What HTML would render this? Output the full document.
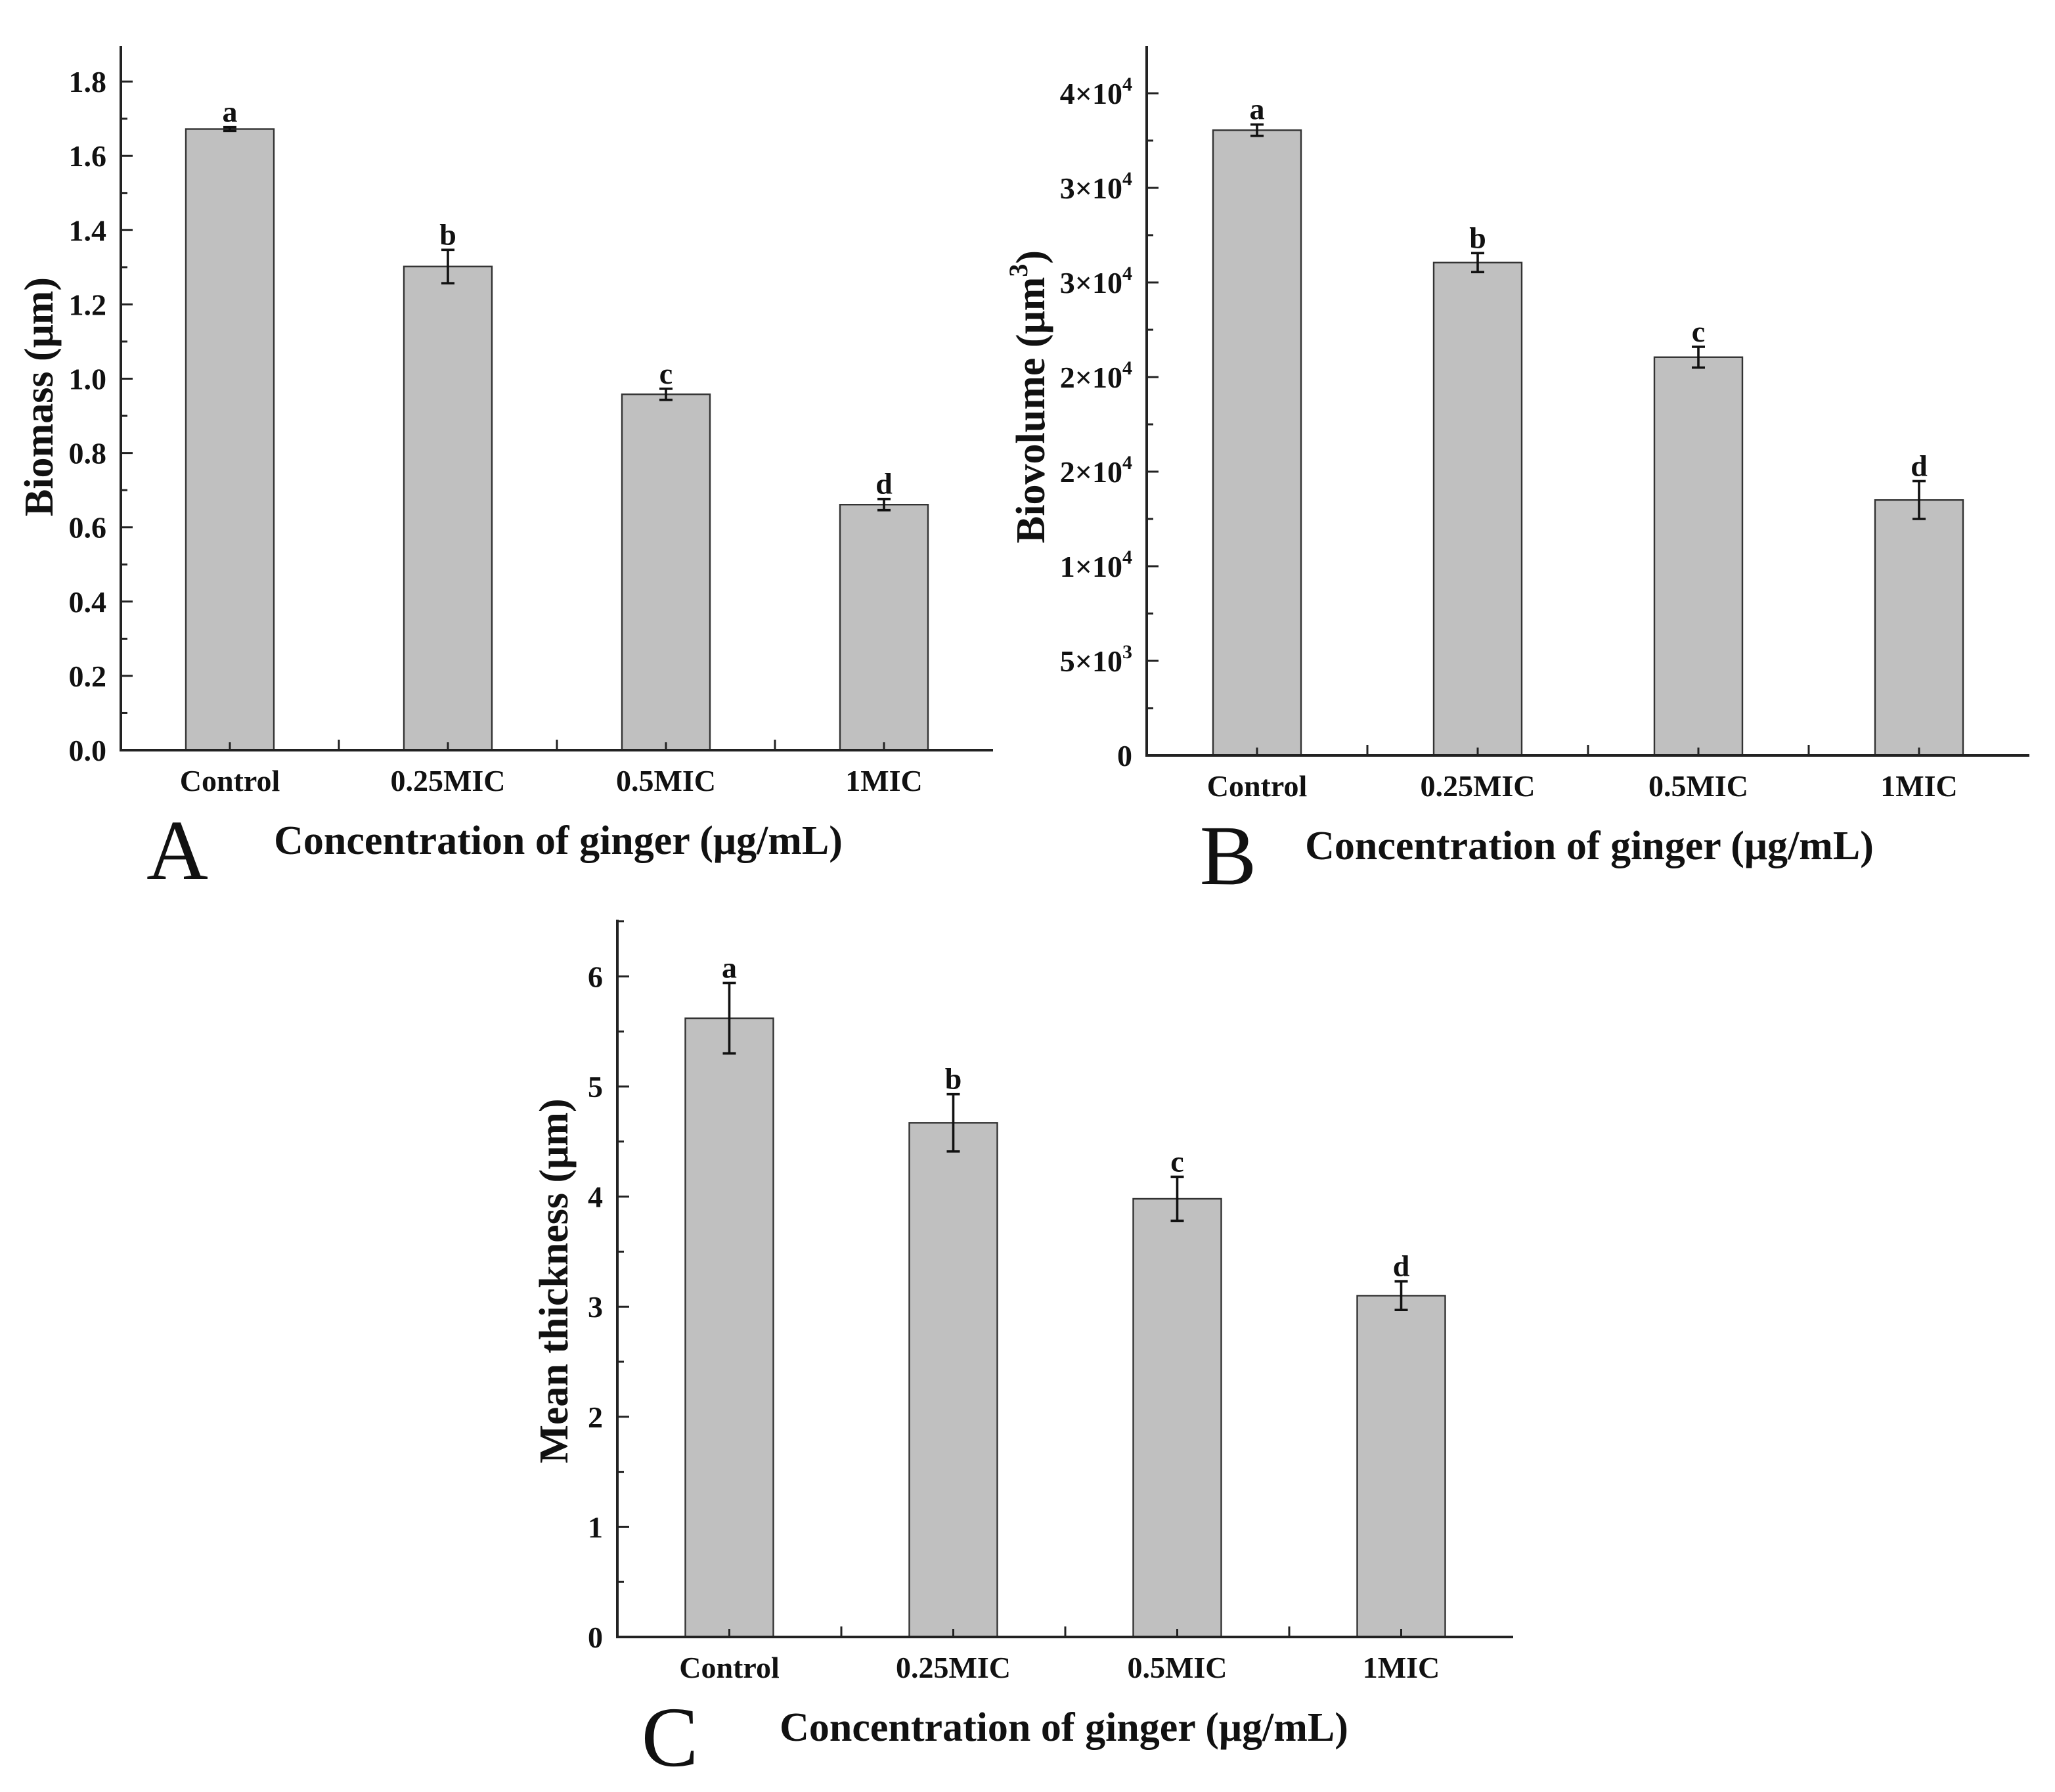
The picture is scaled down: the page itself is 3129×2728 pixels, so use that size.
<!DOCTYPE html>
<html><head><meta charset="utf-8"><style>
html,body{margin:0;padding:0;background:#fff}
svg{display:block}
text{font-family:"Liberation Serif",serif;fill:#111}
</style></head><body>
<svg id="fig" width="3129" height="2728" viewBox="0 0 1564.5 1364" xmlns="http://www.w3.org/2000/svg"></svg>
<script>
const categories = ["Control","0.25MIC","0.5MIC","1MIC"];
const letters = ["a","b","c","d"];
const biomassValues = [1.672, 1.302, 0.958, 0.661];
const biomassErrors = [0.005, 0.045, 0.015, 0.015];
const biomassTicks = ["0.0","0.2","0.4","0.6","0.8","1.0","1.2","1.4","1.6","1.8"];
const biovolumeValues = [33050, 26050, 21050, 13500];
const biovolumeErrors = [300, 500, 550, 1000];
const biovolumeTicks = ["0","5×10^3","1×10^4","2×10^4","2×10^4","3×10^4","3×10^4","4×10^4"];
const thicknessValues = [5.62, 4.67, 3.98, 3.10];
const thicknessErrors = [0.32, 0.26, 0.20, 0.13];
const thicknessTicks = ["0","1","2","3","4","5","6"];

const NS="http://www.w3.org/2000/svg";
const svg=document.getElementById('fig');
function mk(tag,attrs,parent){const e=document.createElementNS(NS,tag);for(const k in attrs)e.setAttribute(k,attrs[k]);(parent||svg).appendChild(e);return e;}

function panel(cfg){
  const g=mk('g',{});
  
  
  const x0=cfg.x0, step=cfg.step, yb=cfg.yb;
  const y=v=>yb-(v/cfg.tickStep)*cfg.tickPx;
  const xc=i=>x0+step/2+step*i;
  const x1=x0+step*categories.length;
  const bw=67;
  cfg.values.forEach((v,i)=>{
    const r=mk('rect',{x:xc(i)-bw/2,y:y(v),width:bw,height:yb-y(v),fill:'#c0c0c0',stroke:'#333','stroke-width':1.2},g);
    
    
    const e=cfg.errors[i], cx=xc(i);
    const eb=mk('path',{d:`M${cx},${y(v+e)}V${y(v-e)}M${cx-5},${y(v+e)}H${cx+5}M${cx-5},${y(v-e)}H${cx+5}`,stroke:'#111','stroke-width':1.8,fill:'none'},g);
    
    
    const t=mk('text',{x:cx,y:y(v+e)-4,'text-anchor':'middle','font-size':23,'font-weight':'bold'},g);
    t.textContent=letters[i];
    
    
    const lb=mk('text',{x:cx,y:yb+31,'text-anchor':'middle','font-size':23,'font-weight':'bold'},g);
    lb.textContent=categories[i];
    
    
    mk('line',{x1:cx,x2:cx,y1:yb,y2:yb-6,stroke:'#222','stroke-width':1.5},g);
    if(i>0){mk('line',{x1:xc(i)-step/2,x2:xc(i)-step/2,y1:yb,y2:yb-8,stroke:'#222','stroke-width':1.5},g);}
  });
  const ax=mk('path',{d:`M${x0},${cfg.ytop}V${yb}H${x1}`,stroke:'#222','stroke-width':2,fill:'none'},g);
  
  
  cfg.ticks.forEach((lab,i)=>{
    const v=i*cfg.tickStep, ty=y(v);
    mk('line',{x1:x0,x2:x0+9,y1:ty,y2:ty,stroke:'#222','stroke-width':1.5},g);
    const mv=v+cfg.tickStep/2;
    if(y(mv)>cfg.ytop) mk('line',{x1:x0,x2:x0+5,y1:y(mv),y2:y(mv),stroke:'#222','stroke-width':1.5},g);
    const t=mk('text',{x:x0-11,y:ty+8,'text-anchor':'end','font-size':23,'font-weight':'bold'},g);
    
    
    if(lab.includes('^')){const [b,p]=lab.split('^');t.textContent=b;const s=mk('tspan',{dy:-10,'font-size':15},t);s.textContent=p;}
    else t.textContent=lab;
  });
  const yt=mk('text',{x:0,y:0,'text-anchor':'middle','font-size':31,'font-weight':'bold',transform:`translate(${cfg.ytx},${cfg.yty}) rotate(-90)`},g);
  
  
  yt.textContent=cfg.ytitle;
  if(cfg.sup){const s=mk('tspan',{dy:-13,'font-size':20},yt);s.textContent=cfg.sup;const s2=mk('tspan',{dy:13},yt);s2.textContent=')';}
  const xt=mk('text',{x:cfg.xtx,y:yb+79,'text-anchor':'middle','font-size':31,'font-weight':'bold'},g);
  
  
  xt.textContent='Concentration of ginger (μg/mL)';
  const pl=mk('text',{x:cfg.lx,y:yb+98,'text-anchor':'middle','font-size':65},g);
  
  
  pl.textContent=cfg.id;
}
panel({id:'A',x0:92,step:166,yb:571,ytop:35,tickStep:0.2,tickPx:56.55,values:biomassValues,errors:biomassErrors,ticks:biomassTicks,ytitle:'Biomass (μm)',ytx:40,yty:302,xtx:425,lx:135});
panel({id:'B',x0:873,step:168,yb:575,ytop:35,tickStep:5000,tickPx:72,values:biovolumeValues,errors:biovolumeErrors,ticks:biovolumeTicks,ytitle:'Biovolume (μm',sup:'3',ytx:795,yty:302,xtx:1210,lx:935});
panel({id:'C',x0:470,step:170.5,yb:1246,ytop:700,tickStep:1,tickPx:83.8,values:thicknessValues,errors:thicknessErrors,ticks:thicknessTicks,ytitle:'Mean thickness (μm)',ytx:432,yty:975,xtx:810,lx:510});
</script>
</body></html>
